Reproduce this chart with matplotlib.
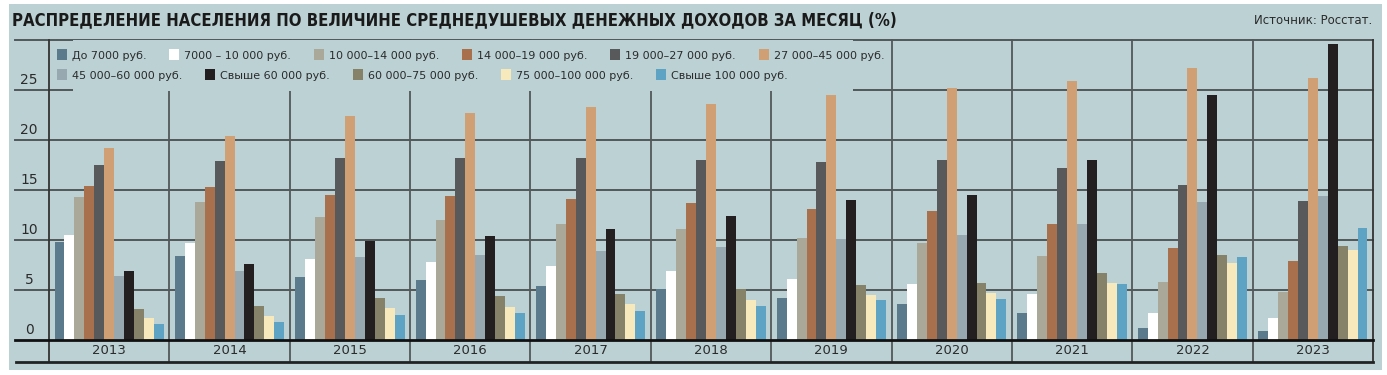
"""Распределение населения по величине среднедушевых денежных доходов (bar chart)."""

import matplotlib
matplotlib.use("Agg")
import matplotlib.pyplot as plt
from matplotlib import font_manager
from matplotlib.patches import Rectangle, Patch

YEARS = ["2013", "2014", "2015", "2016", "2017", "2018", "2019", "2020", "2021", "2022", "2023"]

LABELS = [
    "До 7000 руб.",
    "7000 – 10 000 руб.",
    "10 000–14 000 руб.",
    "14 000–19 000 руб.",
    "19 000–27 000 руб.",
    "27 000–45 000 руб.",
    "45 000–60 000 руб.",
    "Свыше 60 000 руб.",
    "60 000–75 000 руб.",
    "75 000–100 000 руб.",
    "Свыше 100 000 руб.",
]

# values per income group, 2013..2023 (%)
UP_TO_7K = [9.8, 8.4, 6.3, 6.0, 5.4, 5.1, 4.2, 3.6, 2.7, 1.2, 0.9]
FROM_7K_10K = [10.5, 9.7, 8.1, 7.8, 7.4, 6.9, 6.1, 5.6, 4.6, 2.7, 2.2]
FROM_10K_14K = [14.3, 13.8, 12.3, 12.0, 11.6, 11.1, 10.2, 9.7, 8.4, 5.8, 4.8]
FROM_14K_19K = [15.4, 15.3, 14.5, 14.4, 14.1, 13.7, 13.1, 12.9, 11.6, 9.2, 7.9]
FROM_19K_27K = [17.5, 17.9, 18.2, 18.2, 18.2, 18.0, 17.8, 18.0, 17.2, 15.5, 13.9]
FROM_27K_45K = [19.2, 20.4, 22.4, 22.7, 23.3, 23.6, 24.5, 25.2, 25.9, 27.2, 26.2]
FROM_45K_60K = [6.4, 6.9, 8.3, 8.5, 8.9, 9.3, 10.1, 10.5, 11.6, 13.8, 14.4]
OVER_60K = [6.9, 7.6, 9.9, 10.4, 11.1, 12.4, 14.0, 14.5, 18.0, 24.5, 29.6]
FROM_60K_75K = [3.1, 3.4, 4.2, 4.4, 4.6, 5.1, 5.5, 5.7, 6.7, 8.5, 9.4]
FROM_75K_100K = [2.2, 2.4, 3.2, 3.3, 3.6, 4.0, 4.5, 4.7, 5.7, 7.7, 9.0]
OVER_100K = [1.6, 1.8, 2.5, 2.7, 2.9, 3.4, 4.0, 4.1, 5.6, 8.3, 11.2]

SERIES = [UP_TO_7K, FROM_7K_10K, FROM_10K_14K, FROM_14K_19K, FROM_19K_27K, FROM_27K_45K,
          FROM_45K_60K, OVER_60K, FROM_60K_75K, FROM_75K_100K, OVER_100K]

COLORS = ["#5b7b8c", "#ffffff", "#aaa999", "#a8704c", "#58595b", "#d0a074",
          "#98a8b1", "#231f20", "#858269", "#f8e9bd", "#5ea3c4"]

Y_TICKS = [0, 5, 10, 15, 20, 25]

BG = "#bcd1d4"
GRID = "#53585a"
TEXT = "#2b2b2b"


def find_font(*patterns):
    for pat in patterns:
        for f in font_manager.fontManager.ttflist:
            if pat.lower() in f.fname.lower().replace("\\", "/").split("/")[-1]:
                return font_manager.FontProperties(fname=f.fname)
    return None


title_fp = find_font("LiberationSansNarrow-Bold.", "DejaVuSansCondensed-Bold.")
if title_fp is None:
    title_fp = font_manager.FontProperties(family="DejaVu Sans", weight="bold")
    title_size = 10.8
else:
    title_size = 13.7 if "Narrow" in title_fp.get_file() else 12.0
title_fp.set_size(title_size)

W, H = 1387, 375
fig = plt.figure(figsize=(W / 100, H / 100), dpi=100)
fig.patch.set_facecolor("white")
fig.patches.append(Rectangle((9 / W, 5 / H), (1382 - 9) / W, (370 - 4) / H,
                             transform=fig.transFigure, facecolor=BG, edgecolor="none", zorder=-10))

ax = fig.add_axes([49 / W, 35 / H, (1373 - 49) / W, 300 / H])
ax.set_facecolor("none")
ax.set_xlim(0, len(YEARS))
ax.set_ylim(0, 30)
for s in ax.spines.values():
    s.set_visible(False)
ax.set_xticks([])
ax.set_yticks([])

# bars
n = len(SERIES)
bw = 0.0825
margin = (1 - n * bw) / 2
for j, (vals, c) in enumerate(zip(SERIES, COLORS)):
    xs = [i + margin + (j + 0.5) * bw for i in range(len(YEARS))]
    ax.bar(xs, vals, width=bw, color=c, edgecolor="none", zorder=3)

# grid + frame
ytr = ax.get_yaxis_transform()
x_left = -34 / 1324
for v in Y_TICKS[1:] + [30]:
    ax.plot([x_left, 1], [v, v], transform=ytr, color=GRID, lw=1.4, clip_on=False, zorder=1)
for v in Y_TICKS:
    ax.text(-20 / 1324, v + 1.0, str(v), transform=ytr, ha="center", va="center",
            fontsize=10, color=TEXT)
ax.plot([x_left, 1], [0, 0], transform=ytr, color="#111111", lw=2.0, clip_on=False, zorder=4)
ax.plot([x_left + 1 / 1324, 1], [-2.2, -2.2], transform=ytr, color="#222222", lw=2.0,
        clip_on=False, zorder=4)
for i in range(len(YEARS) + 1):
    ax.plot([i, i], [-2.2, 30], color=GRID if 0 < i < len(YEARS) else "#333333",
            lw=1.3, clip_on=False, zorder=2)
for i, yr in enumerate(YEARS):
    ax.text(i + 0.5, -1.1, yr, ha="center", va="center", fontsize=9.5, color=TEXT)

# legend area hides the grid behind it
ax.add_patch(Rectangle((24 / 120.4, 24.85), (853 - 73) / 120.4, 5.1,
                       facecolor=BG, edgecolor="none", zorder=2.5))

handles = [Patch(facecolor=c, edgecolor="none") for c in COLORS]
leg_kw = dict(frameon=False, fontsize=8, handlelength=0.9, handleheight=1.1,
              handletextpad=0.45, columnspacing=2.05, borderaxespad=0, borderpad=0)
leg1 = ax.legend(handles[:6], LABELS[:6], ncol=6, loc="center left",
                 bbox_to_anchor=(8 / 1324, 1 - 15 / 300), **leg_kw)
for t in leg1.get_texts():
    t.set_color(TEXT)
ax.add_artist(leg1)
leg2 = ax.legend(handles[6:], LABELS[6:], ncol=5, loc="center left",
                 bbox_to_anchor=(8 / 1324, 1 - 35 / 300), **leg_kw)
for t in leg2.get_texts():
    t.set_color(TEXT)
leg1.set_zorder(5)
leg2.set_zorder(5)

fig.text(12 / W, 1 - 20 / H, "РАСПРЕДЕЛЕНИЕ НАСЕЛЕНИЯ ПО ВЕЛИЧИНЕ СРЕДНЕДУШЕВЫХ ДЕНЕЖНЫХ ДОХОДОВ ЗА МЕСЯЦ (%)",
         ha="left", va="center", fontproperties=title_fp, color="#1a1a1a")
fig.text(1372 / W, 1 - 20 / H, "Источник: Росстат.", ha="right", va="center",
         fontsize=8.5, color=TEXT)

fig.savefig("out.png", dpi=100, facecolor=fig.get_facecolor())
